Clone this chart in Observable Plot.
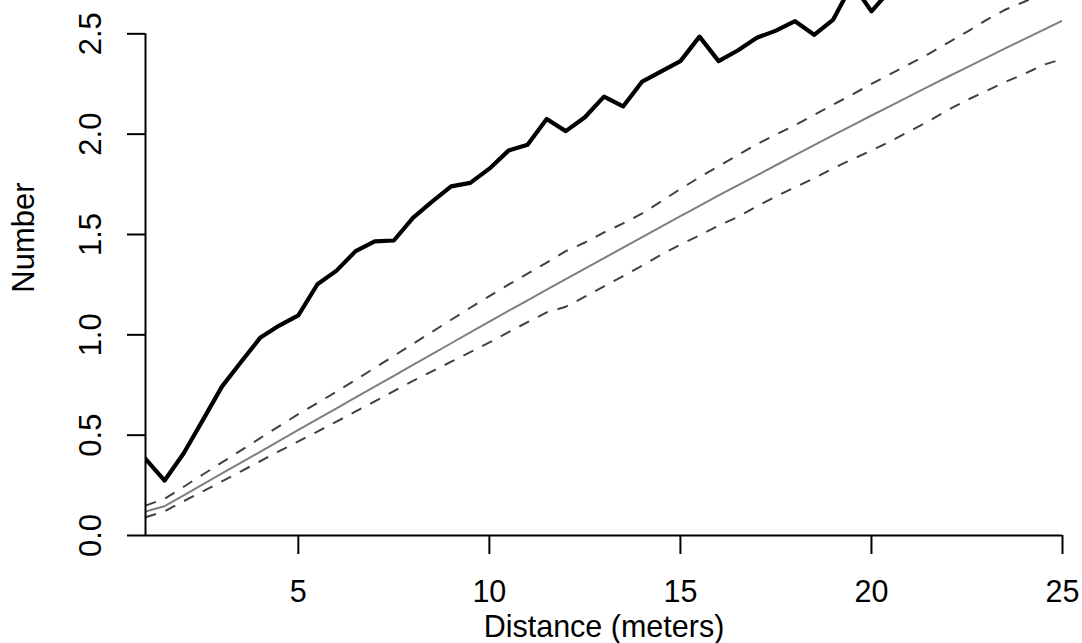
<!DOCTYPE html>
<html>
<head>
<meta charset="utf-8">
<script src="https://cdn.jsdelivr.net/npm/d3@7"></script>
<script src="https://cdn.jsdelivr.net/npm/@observablehq/plot@0.6"></script>
<style>
  html, body { margin: 0; padding: 0; background: #ffffff; }
  #chart svg { display: block; }
</style>
</head>
<body>
<div id="chart"></div>
<script>
// Distance values (meters)
const distance = [1, 1.5, 2, 2.5, 3, 3.5, 4, 4.5, 5, 5.5, 6, 6.5, 7, 7.5, 8, 8.5, 9, 9.5, 10,
  10.5, 11, 11.5, 12, 12.5, 13, 13.5, 14, 14.5, 15, 15.5, 16, 16.5, 17, 17.5, 18, 18.5, 19, 19.5, 20,
  20.5, 21, 21.5, 22, 22.5, 23, 23.5, 24, 24.5, 25];

// Observed (thick black), visible part up to 20.5
const observed = [0.382, 0.274, 0.41, 0.575, 0.742, 0.865, 0.985, 1.046, 1.097, 1.252, 1.32, 1.417,
  1.466, 1.47, 1.583, 1.664, 1.74, 1.757, 1.828, 1.918, 1.947, 2.076, 2.015, 2.084, 2.187, 2.138,
  2.262, 2.313, 2.364, 2.486, 2.364, 2.417, 2.48, 2.516, 2.563, 2.495, 2.571, 2.75, 2.612, 2.72];

// Theoretical (solid gray)
const theoretical = [0.12, 0.146, 0.2, 0.255, 0.309, 0.363, 0.417, 0.472, 0.526, 0.58, 0.634, 0.688,
  0.742, 0.796, 0.85, 0.904, 0.958, 1.012, 1.066, 1.119, 1.172, 1.225, 1.277, 1.33, 1.382, 1.435,
  1.487, 1.539, 1.591, 1.643, 1.695, 1.745, 1.795, 1.845, 1.895, 1.945, 1.995, 2.044, 2.093, 2.141,
  2.19, 2.238, 2.286, 2.333, 2.38, 2.427, 2.474, 2.52, 2.566];

// Upper envelope (dashed)
const upper = [0.149, 0.183, 0.243, 0.304, 0.364, 0.424, 0.485, 0.545, 0.605, 0.66, 0.717, 0.776,
  0.835, 0.895, 0.955, 1.015, 1.075, 1.135, 1.193, 1.25, 1.305, 1.36, 1.417, 1.46, 1.51, 1.555,
  1.605, 1.665, 1.727, 1.785, 1.84, 1.895, 1.95, 1.998, 2.045, 2.096, 2.147, 2.198, 2.25, 2.3,
  2.35, 2.4, 2.455, 2.51, 2.568, 2.62, 2.66, 2.7, 2.74];

// Lower envelope (dashed)
const lower = [0.091, 0.121, 0.171, 0.22, 0.27, 0.32, 0.37, 0.42, 0.469, 0.518, 0.568, 0.618,
  0.668, 0.72, 0.77, 0.818, 0.866, 0.914, 0.962, 1.013, 1.063, 1.112, 1.14, 1.19, 1.241, 1.293,
  1.345, 1.4, 1.45, 1.495, 1.545, 1.587, 1.64, 1.69, 1.735, 1.78, 1.83, 1.875, 1.918, 1.965,
  2.015, 2.065, 2.12, 2.17, 2.215, 2.26, 2.3, 2.345, 2.375];

const xTicks = [5, 10, 15, 20, 25];
const yTicks = [0, 0.5, 1, 1.5, 2, 2.5];
const xLabel = "Distance (meters)";
const yLabel = "Number";

const obsData = observed.map((v, i) => ({x: distance[i], y: v}));
const theoData = theoretical.map((v, i) => ({x: distance[i], y: v}));
const upData = upper.map((v, i) => ({x: distance[i], y: v}));
const loData = lower.map((v, i) => ({x: distance[i], y: v}));

const FONT_H = 30.5;   // horizontal text
const FONT_V = 31;     // rotated text

const chart = Plot.plot({
  width: 1082,
  height: 643,
  marginLeft: 145,
  marginRight: 20,
  marginTop: 0,
  marginBottom: 108,
  x: {domain: [1, 25]},
  y: {domain: [0, 2.666]},
  style: {fontFamily: "'Liberation Sans', Arial, sans-serif", fontSize: FONT_H + "px", color: "#000", background: "#fff"},
  marks: [
    Plot.lineY(theoData, {x: "x", y: "y", stroke: "#7f7f7f", strokeWidth: 2, clip: true}),
    Plot.lineY(upData, {x: "x", y: "y", stroke: "#404040", strokeWidth: 2, strokeDasharray: "11,10", strokeLinecap: "butt", clip: true}),
    Plot.lineY(loData, {x: "x", y: "y", stroke: "#404040", strokeWidth: 2, strokeDasharray: "11,10", strokeLinecap: "butt", clip: true}),
    Plot.lineY(obsData, {x: "x", y: "y", stroke: "#000", strokeWidth: 4.2, clip: true}),
    Plot.ruleY([0], {x1: 1, x2: 25, stroke: "#000", strokeWidth: 2}),
    Plot.ruleX([1], {y1: 0, y2: 2.5, stroke: "#000", strokeWidth: 2}),
    Plot.axisX({ticks: xTicks, tickSize: 19, tickPadding: 25.8, fontSize: FONT_H, strokeWidth: 2, label: null, tickFormat: d => String(d)}),
    Plot.axisY({ticks: yTicks, tickSize: 18, tickPadding: 27, tickRotate: -90, fontSize: FONT_V, strokeWidth: 2, label: null, tickFormat: d3.format(".1f")}),
    Plot.text([xLabel], {frameAnchor: "bottom", dy: 101, lineAnchor: "bottom", textAnchor: "middle", fontSize: FONT_H, fill: "#000"}),
    Plot.text([yLabel], {frameAnchor: "left", dx: -112, dy: -30.5, rotate: -90, lineAnchor: "bottom", textAnchor: "middle", fontSize: FONT_V, fill: "#000"})
  ]
});

document.getElementById("chart").appendChild(chart);
</script>
</body>
</html>
